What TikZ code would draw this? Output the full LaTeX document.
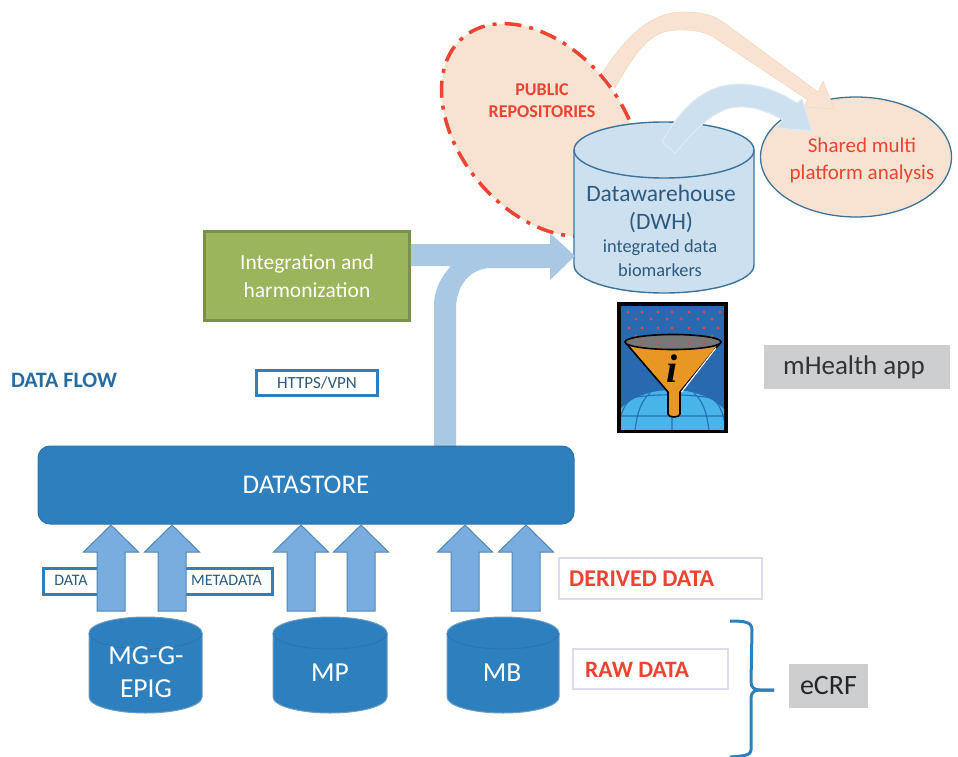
\documentclass[tikz,border=0pt]{standalone}
\usepackage{fontspec}
\setmainfont{Carlito}
\usetikzlibrary{calc,shapes.geometric}
\definecolor{dsblue}{HTML}{2E7FBD}
\definecolor{dsedge}{HTML}{2A73AC}
\definecolor{arrfill}{HTML}{79ADDF}
\definecolor{arredge}{HTML}{4F86B8}
\definecolor{flow}{HTML}{A9C8E4}
\definecolor{peach}{HTML}{F8E3D2}
\definecolor{peachedge}{HTML}{F5D8C0}
\definecolor{redtxt}{HTML}{EC4430}
\definecolor{lav}{HTML}{DCDCEE}
\definecolor{dwhfill}{HTML}{CDE0F0}
\definecolor{dwhedge}{HTML}{3E7399}
\definecolor{dwhtxt}{HTML}{2C5A80}
\definecolor{archedge}{HTML}{E0EBF5}
\definecolor{graybox}{HTML}{CCCED0}
\definecolor{intfill}{HTML}{9BB55C}
\definecolor{intedge}{HTML}{7A8F48}
\definecolor{iconblue}{HTML}{2869AF}
\definecolor{globe}{HTML}{48B4E8}
\definecolor{globeline}{HTML}{236FB5}
\definecolor{dotred}{HTML}{E24650}
\definecolor{funnel}{HTML}{E89624}
\definecolor{funnelgray}{HTML}{787878}
\tikzset{
  x=1pt,y=-1pt,
  fs/.style={font=\fontsize{#1}{#1}\selectfont},
  tagbox/.style={draw=dsblue,line width=3pt,fill=white,rectangle,inner sep=0pt},
  labbox/.style={draw=lav,line width=1.3pt,fill=white,rectangle,inner sep=0pt},
  redbold/.style={text=redtxt,font=\fontsize{#1}{#1}\selectfont\bfseries,inner sep=0pt},
  upflow/.style={fill=arrfill,draw=arredge,line width=1pt,line join=miter},
  dbc/.style={fill=dsblue,draw=dsedge!70!white,line width=1pt},
  wlab/.style={text=white,inner sep=0pt,align=center},
}
\newcommand{\upblock}[1]{%
  \path[upflow] (#1,525) -- (#1+27.5,552) -- (#1+14,552) -- (#1+14,611) -- (#1-14,611) -- (#1-14,552) -- (#1-27.5,552) -- cycle;}
\newcommand{\dbcyl}[2]{% left, right
  \path[dbc] (#1,633) arc[x radius={(#2-#1)/2},y radius=16,start angle=180,end angle=360]
     -- (#2,697) arc[x radius={(#2-#1)/2},y radius=16,start angle=0,end angle=180] -- cycle;
  \draw[dsedge,line width=.8pt] (#1,633) arc[x radius={(#2-#1)/2},y radius=16,start angle=180,end angle=0];}
\begin{document}
\begin{tikzpicture}
\useasboundingbox (0,0) rectangle (958,757);
% public repositories
\node[ellipse,rotate=-50,minimum width=242,minimum height=162,inner sep=0pt,fill=peach,draw=redtxt,line width=3.5pt,
   dash pattern=on 17pt off 8pt on 4pt off 8pt] (pub) at (541,130) {};
\node[redbold=18,align=center] (publab) at (542,101) {PUBLIC\\[4pt]REPOSITORIES};
% shared ellipse
\node[ellipse,minimum width=191,minimum height=120,inner sep=0pt,fill=peach,draw=dwhedge,line width=1.3pt] (shared) at (856,157) {};
\node[text=redtxt,fs=21,inner sep=0pt,align=center] (sharedlab) at (862,160) {Shared multi\\[6pt]platform analysis};
% orange curved arrow
\path[fill=peach,draw=peachedge,line width=.6pt]
  (603,72) .. controls (625,38) and (650,12) .. (683,12) .. controls (700,12) and (712,14) .. (723,22)
  -- (818,92) -- (823,81) -- (834,109) -- (803,107) -- (808,100)
  -- (712,36) .. controls (700,30) and (680,28) .. (664,32) .. controls (645,38) and (632,58) .. (615,88) -- cycle;
% DWH
\path[fill=dwhfill,draw=dwhedge,line width=1.4pt] (574,150) arc[x radius=90,y radius=28,start angle=180,end angle=360]
   -- (754,265) arc[x radius=90,y radius=28,start angle=0,end angle=180] -- cycle;
\draw[dwhedge,line width=1.4pt] (574,150) arc[x radius=90,y radius=28,start angle=180,end angle=0];
\node[text=dwhtxt,fs=23.5,inner sep=0pt] (dwh1) at (661,193) {Datawarehouse};
\node[text=dwhtxt,fs=23.5,inner sep=0pt] (dwh2) at (661,223) {(DWH)};
\node[text=dwhtxt,fs=18.4,inner sep=0pt] (dwh3) at (660,248) {integrated data};
\node[text=dwhtxt,fs=18.4,inner sep=0pt] (dwh4) at (660,270) {biomarkers};
% blue curved arrow
\path[fill=dwhfill,draw=archedge,line width=1pt]
  (662,142) .. controls (685,100) and (710,84) .. (740,84) .. controls (760,84) and (780,92) .. (797,103)
  -- (802,99) -- (812,131) -- (777,128) -- (783,120)
  .. controls (765,110) and (750,106) .. (738,107) .. controls (715,108) and (695,130) .. (675,153) -- cycle;
% integration
\node[rectangle,minimum width=205,minimum height=89,inner sep=0pt,fill=intfill,
  draw=intedge,line width=2.5pt,wlab,fs=21.5] (integ) at (307,276) {Integration and\\[6pt]harmonization};
% flow arrows
\path[fill=flow] (integ.east |- 0,244) -- (550,244) -- (550,233) -- (575,256) -- (550,280) -- (550,268)
  -- (492,268) .. controls (470,268) and (456,285) .. (456,310) -- (456,446) -- (434,446) -- (434,305)
  .. controls (434,290) and (441,277) .. (451,266) -- (integ.east |- 0,266) -- cycle;
% labels
\node[text=dsblue!85!black,font=\fontsize{22}{22}\selectfont\bfseries,inner sep=0pt] (flowlab) at (64,380) {DATA FLOW};
\node[tagbox,minimum width=121,minimum height=25,text=dwhtxt,fs=17] (https) at (317,383) {HTTPS/VPN};
% funnel icon
\fill[black] (617,302) rectangle (728,433);
\fill[iconblue] (621,306) rectangle (724,429);
\begin{scope}
\clip (621,306) rectangle (724,429);
\fill[globe] (672,432) ellipse[x radius=62,y radius=42];
\draw[globeline,line width=1.1pt]
  (612,403) .. controls (640,392) and (700,392) .. (732,403)
  (612,416) -- (732,416) (612,397) .. controls (640,383) and (700,383) .. (732,397)
  (672,390) -- (672,430)
  (650,393) .. controls (640,402) and (637,415) .. (635,430)
  (694,393) .. controls (704,402) and (707,415) .. (709,430)
  (630,400) .. controls (622,407) and (620,418) .. (618,430)
  (714,400) .. controls (722,407) and (724,418) .. (726,430);
\end{scope}
\foreach \xx/\yy in {628/312,642/312,658/312,672/312,689/312,704/312,720/312,
   636/319,651/319,667/319,681/319,698/319,712/319,
   629/328,642/328,658/328,672/328,689/328,704/328,718/328,
   636/336,651/336,667/336,681/336,698/336,712/336}
  \fill[dotred] (\xx,\yy) circle[radius=1.7];
\path[fill=funnel,draw=black,line width=1.6pt,line join=round]
  (625,342) -- (668,392) -- (668,414) .. controls (668,418) and (680,418) .. (680,414) -- (680,392) -- (721,342) -- cycle;
\draw[white,line width=1.2pt] (681.5,392) -- (716,348);
\path[fill=funnelgray,draw=black,line width=1.6pt] (673,342) ellipse[x radius=48,y radius=7.5];
\foreach \xx in {642,658,672,689,704} \fill[dotred] (\xx,343) circle[radius=1.7];
\node[inner sep=0pt,font=\fontsize{40}{40}\selectfont] (ilab) at (672,369) {\fontspec{Liberation Serif}[Ligatures=TeX]\bfseries\itshape i};
\node[rectangle,fill=graybox,minimum width=186,minimum height=44,inner sep=0pt] (mhealth) at (857,367) {};
\node[text=black!80,fs=27,inner sep=0pt] (mhealthlab) at (854,367) {mHealth app};
% tags behind arrows
\node[tagbox,minimum width=60,minimum height=26] (datatag) at (73,581) {};
\node[tagbox,minimum width=92,minimum height=26] (metatag) at (226,581) {};
\node[text=dwhtxt,inner sep=0pt,fs=16] (datalab) at (71,580) {DATA};
\node[text=dwhtxt,inner sep=0pt,fs=16] (metalab) at (226.5,580) {METADATA};
% up arrows
\upblock{111}\upblock{172}\upblock{301}\upblock{361}\upblock{465}\upblock{526}
% datastore
\node[rectangle,rounded corners=12pt,minimum width=536,minimum height=78,inner sep=0pt,fill=dsblue,draw=dsedge,line width=1pt,wlab,fs=27] (datastore) at (306,485) {DATASTORE};
% db cylinders
\dbcyl{89}{202}\dbcyl{273}{387}\dbcyl{447}{559}
\node[wlab,fs=27.5] (mg) at (146,656) {MG-G-};
\node[wlab,fs=27.5] (epig) at (146,689) {EPIG};
\node[wlab,fs=27.5] (mp) at (330,673) {MP};
\node[wlab,fs=27.5] (mb) at (502,673) {MB};
% derived/raw
\node[labbox,minimum width=203,minimum height=41] (derived) at (660.5,578.5) {};
\node[redbold=24,anchor=west] (derivedlab) at (569,579) {DERIVED DATA};
\node[labbox,minimum width=155,minimum height=40] (raw) at (650.5,669) {};
\node[redbold=23.5,anchor=west] (rawlab) at (585,670) {RAW DATA};
% brace
\coordinate (bt) at (730,621);
\coordinate (bb) at (730,757);
\coordinate (btip) at (774,690);
\draw[dsblue,line width=3pt,line join=round] (bt) .. controls (745,621) and (752,622) .. (752,630)
  -- (751,682) .. controls (751,688) and (755,690) .. (760,690) -- (btip);
\draw[dsblue,line width=3pt] (btip) -- (760,690) .. controls (755,690) and (751,692) .. (751,698) -- (751,750) .. controls (751,755) and (745,756) .. (bb);
\node[rectangle,fill=graybox,minimum width=79,minimum height=44,inner sep=0pt,text=black!85,fs=28] (ecrf) at (828.5,686) {eCRF};
\end{tikzpicture}
\end{document}
